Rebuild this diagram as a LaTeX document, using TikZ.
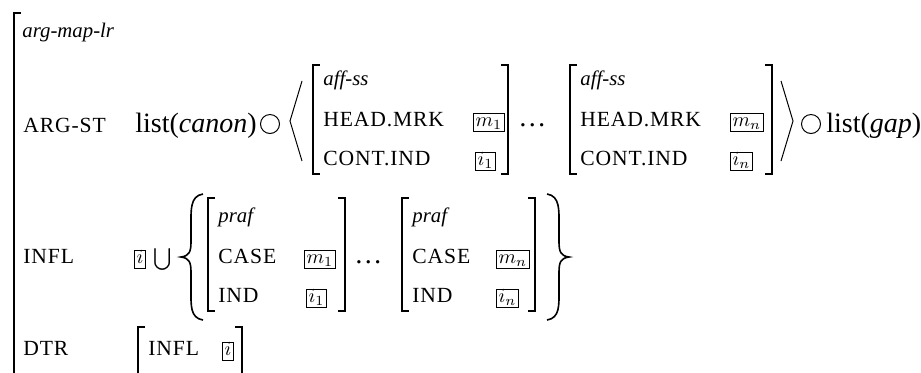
\documentclass[tikz,border=0pt]{standalone}
\usepackage{amsmath}
\usepackage{fontspec}
\setmainfont{Liberation Serif}
\newfontfamily\featfont[LetterSpace=4]{Liberation Serif}

\tikzstyle{feat} = [anchor=base west, inner sep=0pt, font=\featfont\fontsize{10.8}{12}\selectfont]
\tikzstyle{typ} = [anchor=base west, inner sep=0pt, font=\fontsize{10.4}{12}\selectfont\itshape]
\tikzstyle{val} = [anchor=base west, inner sep=0pt, font=\fontsize{14}{16}\selectfont]
\tikzstyle{tag} = [draw, line width=0.4pt, inner xsep=1.1pt, inner ysep=1.2pt, text height=5.2pt, text depth=1.6pt, anchor=base west, font=\fontsize{10}{11}\selectfont]
\tikzstyle{brk} = [line width=0.8pt]
\tikzstyle{ang} = [line width=0.5pt]
\tikzstyle{op} = [circle, draw, line width=0.5pt, minimum size=9.5pt, inner sep=0pt]

\begin{document}
\begin{tikzpicture}[x=0.5pt, y=-0.5pt]
\useasboundingbox (0,0) rectangle (921,372);
%outer bracket
\draw[brk] (21,13) -- (14,13) -- (14,380);
\node[typ] (top) at (22,37) {arg-map-lr};
%begin row ARG-ST
\node[feat] (argst) at (23,132) {ARG-ST};
\node[val] (canon) at (135,132) {list(\textit{canon})};
\node[op] (app1) at (270,124) {};
\draw[ang] (302,81) -- (290,121) -- (302,161);
    %begin aff-ss 1
    \draw[brk] (320,65) -- (313,65) -- (313,174) -- (320,174);
    \node[typ] (affa) at (323,85) {aff-ss};
    \node[feat] (mrka) at (323,126) {HEAD.MRK};
    \node[feat] (inda) at (323,165) {CONT.IND};
    \node[tag] (ma) at (473,126) {$m_1$};
    \node[tag] (ia) at (475,165) {$i_1$};
    \draw[brk] (501,65) -- (508,65) -- (508,174) -- (501,174);
    %end aff-ss 1
\node[val] (dotsa) at (518,126) {\dots};
    %begin aff-ss n
    \draw[brk] (577,65) -- (570,65) -- (570,174) -- (577,174);
    \node[typ] (affn) at (580,85) {aff-ss};
    \node[feat] (mrkn) at (580,126) {HEAD.MRK};
    \node[feat] (indn) at (580,165) {CONT.IND};
    \node[tag] (mn) at (730,126) {$m_n$};
    \node[tag] (in) at (730,165) {$i_n$};
    \draw[brk] (765,65) -- (772,65) -- (772,174) -- (765,174);
    %end aff-ss n
\draw[ang] (781,81) -- (793,121) -- (781,161);
\node[op] (app2) at (811,124) {};
\node[val] (gap) at (826,132) {list(\textit{gap})};
%end row ARG-ST
%begin row INFL
\node[feat] (infl) at (23,263) {INFL};
\node[tag] (ib) at (134,263) {$i$};
\node[val] (cup) at (153,265) {\fontsize{11}{12}\selectfont$\bigcup$};
\draw[brk] (203,194) .. controls (190,196) and (191,210) .. (191,225)
    -- (191,242) .. controls (191,252) and (189,256) .. (181,257)
    .. controls (189,258) and (191,262) .. (191,272)
    -- (191,290) .. controls (191,305) and (190,318) .. (203,320);
    %begin praf 1
    \draw[brk] (215,198) -- (208,198) -- (208,311) -- (215,311);
    \node[typ] (prafa) at (218,222) {praf};
    \node[feat] (casea) at (218,263) {CASE};
    \node[feat] (pinda) at (218,302) {IND};
    \node[tag] (pma) at (304,263) {$m_1$};
    \node[tag] (pia) at (306,302) {$i_1$};
    \draw[brk] (338,198) -- (345,198) -- (345,311) -- (338,311);
    %end praf 1
\node[val] (dotsb) at (354,263) {\dots};
    %begin praf n
    \draw[brk] (409,198) -- (402,198) -- (402,311) -- (409,311);
    \node[typ] (prafn) at (412,222) {praf};
    \node[feat] (casen) at (412,263) {CASE};
    \node[feat] (pindn) at (412,302) {IND};
    \node[tag] (pmn) at (496,263) {$m_n$};
    \node[tag] (pin) at (496,302) {$i_n$};
    \draw[brk] (528,198) -- (535,198) -- (535,311) -- (528,311);
    %end praf n
\draw[brk] (547,194) .. controls (560,196) and (559,210) .. (559,225)
    -- (559,242) .. controls (559,252) and (561,256) .. (569,257)
    .. controls (561,258) and (559,262) .. (559,272)
    -- (559,290) .. controls (559,305) and (560,318) .. (547,320);
%end row INFL
%begin row DTR
\node[feat] (dtr) at (23,355) {DTR};
\draw[brk] (145,327) -- (138,327) -- (138,380);
\node[feat] (dinfl) at (148,355) {INFL};
\node[tag] (di) at (222,355) {$i$};
\draw[brk] (235,327) -- (242,327) -- (242,380);
%end row DTR
\end{tikzpicture}
\end{document}
